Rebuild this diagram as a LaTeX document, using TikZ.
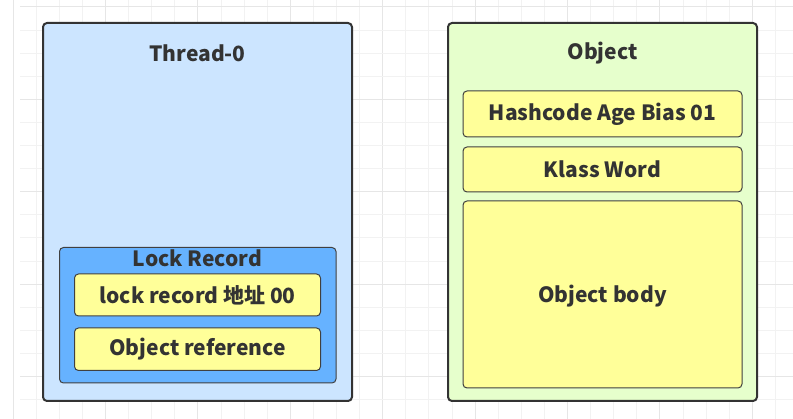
\documentclass[tikz,border=0pt]{standalone}
\usepackage{fontspec}
\setmainfont{Noto Sans CJK SC}
\begin{document}
\begin{tikzpicture}[x=1pt,y=-1pt,
  outerbox/.style={draw=black!80, line width=2pt, rounded corners=4pt},
  innerbox/.style={draw=black!75, line width=1pt, rounded corners=4pt, fill=fieldyellow},
  lbl/.style={font=\fontsize{21}{24}\selectfont\bfseries, text=textdark, inner sep=0pt}
]
\definecolor{threadblue}{HTML}{CCE5FF}
\definecolor{lockblue}{HTML}{66B2FF}
\definecolor{fieldyellow}{HTML}{FFFF99}
\definecolor{objgreen}{HTML}{E6FFCC}
\definecolor{textdark}{HTML}{333333}
\definecolor{gridminor}{HTML}{F2F2F2}
\definecolor{gridmajor}{HTML}{E6E6E6}
\useasboundingbox (0,0) rectangle (793,419);
\fill[white] (0,0) rectangle (793,419);
% grid
\foreach \i in {0,...,33} {
  \pgfmathsetmacro{\gx}{13.1+23.1*\i}
  \pgfmathtruncatemacro{\m}{mod(\i,4)}
  \ifnum\m=0 \draw[gridmajor, line width=1pt] (\gx,0) -- (\gx,419);
  \else \draw[gridminor, line width=1pt] (\gx,0) -- (\gx,419); \fi
}
\foreach \j in {0,...,18} {
  \pgfmathsetmacro{\gy}{7+23.1*\j}
  \pgfmathtruncatemacro{\m}{mod(\j,4)}
  \ifnum\m=0 \draw[gridmajor, line width=1pt] (20,\gy) -- (793,\gy);
  \else \draw[gridminor, line width=1pt] (20,\gy) -- (793,\gy); \fi
}
% Thread-0
\draw[outerbox, fill=threadblue] (43,23) rectangle (352,401);
\node[lbl] (thread) at (197.5,53) {Thread-0};
\draw[draw=black!75, line width=1pt, rounded corners=4pt, fill=lockblue] (59.5,247.5) rectangle (336,383);
\node[lbl] (lockrec) at (197.5,258) {Lock Record};
\draw[innerbox] (74.5,274) rectangle (320.5,316);
\node[lbl] (lraddr) at (197.5,295) {lock record 地址 00};
\draw[innerbox] (74.5,328) rectangle (320.5,370.5);
\node[lbl] (objref) at (197.5,349.5) {Object reference};
% Object
\draw[outerbox, fill=objgreen] (448,23) rectangle (757,401);
\node[lbl] (obj) at (602.5,53) {Object};
\draw[innerbox] (463,91) rectangle (742,137);
\node[lbl] (hash) at (602.5,114) {Hashcode Age Bias 01};
\draw[innerbox] (463,147) rectangle (742,192);
\node[lbl] (klass) at (602.5,169.5) {Klass Word};
\draw[innerbox] (463,201) rectangle (742,388);
\node[lbl] (body) at (602.5,296) {Object body};
\end{tikzpicture}
\end{document}
